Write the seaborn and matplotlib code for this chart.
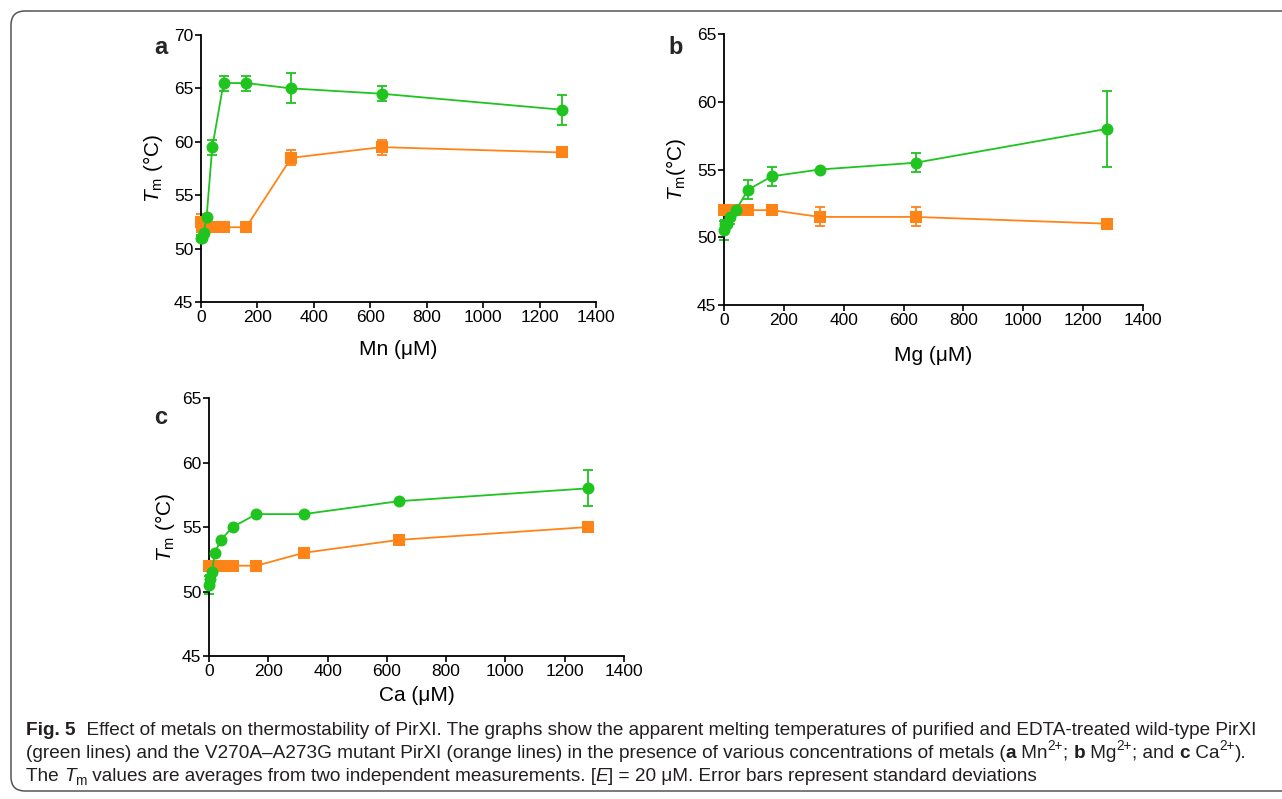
import matplotlib
matplotlib.use("Agg")
import matplotlib.pyplot as plt
import matplotlib.transforms as mtransforms
from matplotlib.patches import FancyBboxPatch
import numpy as np
import pandas as pd
import seaborn as sns

# ---------------- data ----------------
conc = [0, 5, 10, 20, 40, 80, 160, 320, 640, 1280]

mn_wt = [51, 51, 51.5, 53, 59.5, 65.5, 65.5, 65, 64.5, 63]
mn_wt_err = [0.3, 0, 0, 0, 0.7, 0.7, 0.7, 1.4, 0.7, 1.4]
mn_mut = [52.5, 52, 52, 52, 52, 52, 52, 58.5, 59.5, 59]
mn_mut_err = [0.7, 0, 0, 0, 0, 0, 0, 0.7, 0.7, 0]

mg_wt = [50.5, 51, 51, 51.5, 52, 53.5, 54.5, 55, 55.5, 58]
mg_wt_err = [0.7, 0.3, 0, 0.5, 0, 0.7, 0.7, 0, 0.7, 2.8]
mg_mut = [52, 52, 52, 52, 52, 52, 52, 51.5, 51.5, 51]
mg_mut_err = [0, 0, 0, 0, 0, 0, 0, 0.7, 0.7, 0]

ca_wt = [50.5, 51, 51.5, 53, 54, 55, 56, 56, 57, 58]
ca_wt_err = [0.7, 0.3, 0, 0, 0, 0, 0, 0, 0, 1.4]
ca_mut = [52, 52, 52, 52, 52, 52, 52, 53, 54, 55]
ca_mut_err = [0, 0, 0, 0, 0, 0, 0, 0, 0, 0]

x_ticks = [0, 200, 400, 600, 800, 1000, 1200, 1400]
GREEN = "#1fc41f"
ORANGE = "#ff8418"

# ---------------- style ----------------
sns.set_theme(style="ticks")
plt.rcParams["font.family"] = ["Liberation Sans", "DejaVu Sans"]
plt.rcParams["mathtext.fontset"] = "custom"
plt.rcParams["mathtext.rm"] = "Liberation Sans"
plt.rcParams["mathtext.it"] = "Liberation Sans:italic"
plt.rcParams["mathtext.bf"] = "Liberation Sans:bold"

W, H = 1282, 799
fig = plt.figure(figsize=(W / 100, H / 100), dpi=100)


def px_axes(left, top, right, bottom):
    return fig.add_axes([left / W, 1 - bottom / H, (right - left) / W, (bottom - top) / H])


def draw_panel(ax, wt, wt_err, mut, mut_err, ylim, yticks, xlabel, ylabel, letter,
               letter_xy, ylabel_x, xlabelpad):
    for vals, err, col, mk, ms in [(mut, mut_err, ORANGE, "s", 8.0), (wt, wt_err, GREEN, "o", 8.6)]:
        df = pd.DataFrame({"conc": conc, "tm": vals})
        sns.lineplot(data=df, x="conc", y="tm", ax=ax, color=col, marker=mk, markersize=ms,
                     markeredgewidth=0, linewidth=1.3, clip_on=False, zorder=3)
        e = np.array(err, dtype=float)
        m = e > 0
        ax.errorbar(np.array(conc)[m], np.array(vals)[m], yerr=e[m], fmt="none", ecolor=col,
                    elinewidth=1.3, capsize=3.8, capthick=1.3, clip_on=False, zorder=2)
    ax.set_xlim(0, 1400)
    ax.set_ylim(*ylim)
    ax.set_xticks(x_ticks)
    ax.set_yticks(yticks)
    for s in ["top", "right"]:
        ax.spines[s].set_visible(False)
    for s in ["left", "bottom"]:
        ax.spines[s].set_linewidth(1.3)
        ax.spines[s].set_color("black")
    ax.tick_params(axis="both", direction="out", length=4, width=1.2, labelsize=12.5,
                   colors="black", pad=1.5)
    ax.set_xlabel(xlabel, fontsize=15, labelpad=xlabelpad, color="black")
    ax.set_ylabel(ylabel, fontsize=15, color="black")
    ax.yaxis.set_label_coords(ylabel_x, 0.5)
    ax.grid(False)
    fig.text(letter_xy[0] / W, 1 - letter_xy[1] / H, letter, fontsize=17, fontweight="bold",
             ha="center", va="center")


ax_a = px_axes(201, 35, 596, 302)
draw_panel(ax_a, mn_wt, mn_wt_err, mn_mut, mn_mut_err, (45, 70), [45, 50, 55, 60, 65, 70],
           "Mn (\u03bcM)", r"$T_{\mathrm{m}}$ (°C)", "a", (161, 47), -0.091, 11)

ax_b = px_axes(724, 34, 1143, 305)
draw_panel(ax_b, mg_wt, mg_wt_err, mg_mut, mg_mut_err, (45, 65), [45, 50, 55, 60, 65],
           "Mg (\u03bcM)", r"$T_{\mathrm{m}}$(°C)", "b", (676, 47), -0.086, 13)

ax_c = px_axes(209, 398, 624, 656)
draw_panel(ax_c, ca_wt, ca_wt_err, ca_mut, ca_mut_err, (45, 65), [45, 50, 55, 60, 65],
           "Ca (\u03bcM)", r"$T_{\mathrm{m}}$ (°C)", "c", (161, 418), -0.077, 5)

# ---------------- frame ----------------
box = FancyBboxPatch((11, 8), 1400, 780, boxstyle="round,pad=0,rounding_size=14",
                     transform=mtransforms.IdentityTransform(), facecolor="none",
                     edgecolor="#555555", linewidth=1.1, zorder=0)
fig.patches.append(box)

# ---------------- caption ----------------
renderer = fig.canvas.get_renderer()
ident = mtransforms.IdentityTransform()
CAP_COLOR = "#231f20"
CAP_FONT = ["Liberation Sans Narrow", "Liberation Sans", "DejaVu Sans"]


def text_width(s, size, weight="normal", style="normal"):
    t1 = fig.text(0, 0, "|" + s + "|", fontsize=size, fontweight=weight, fontstyle=style,
                  family=CAP_FONT, transform=ident)
    t2 = fig.text(0, 0, "||", fontsize=size, fontweight=weight, fontstyle=style,
                  family=CAP_FONT, transform=ident)
    w = t1.get_window_extent(renderer).width - t2.get_window_extent(renderer).width
    t1.remove()
    t2.remove()
    return w


def draw_runs(x, y, runs, size):
    for run in runs:
        s = run[0]
        kind = run[1] if len(run) > 1 else "r"
        weight, style, fs, dy = "normal", "normal", size, 0
        if kind == "b":
            weight = "bold"
        elif kind == "i":
            style = "italic"
        elif kind == "sup":
            fs = size * 0.72
            dy = size * 0.55
        elif kind == "sub":
            fs = size * 0.72
            dy = -size * 0.3
        fig.text(x, y + dy, s, fontsize=fs, fontweight=weight, fontstyle=style,
                 family=CAP_FONT, color=CAP_COLOR, transform=ident, va="baseline", ha="left")
        x += text_width(s, fs, weight, style)
    return x


line1 = [("Fig. 5", "b"),
         ("  Effect of metals on thermostability of PirXI. The graphs show the apparent melting "
          "temperatures of purified and EDTA-treated wild-type PirXI", "r")]
line2 = [("(green lines) and the V270A\u2013A273G mutant PirXI (orange lines) in the presence of "
          "various concentrations of metals (", "r"),
         ("a", "b"), (" Mn", "r"), ("2+", "sup"), ("; ", "r"),
         ("b", "b"), (" Mg", "r"), ("2+", "sup"), ("; and ", "r"),
         ("c", "b"), (" Ca", "r"), ("2+", "sup"), (").", "r")]
line3 = [("The ", "r"), ("T", "i"), ("m", "sub"),
         (" values are averages from two independent measurements. [", "r"), ("E", "i"),
         ("] = 20 \u03bcM. Error bars represent standard deviations", "r")]


def runs_width(runs, size):
    tot = 0
    for run in runs:
        kind = run[1]
        w = "bold" if kind == "b" else "normal"
        st = "italic" if kind == "i" else "normal"
        fs = size * 0.72 if kind in ("sup", "sub") else size
        tot += text_width(run[0], fs, w, st)
    return tot


base = 12
target = 1262 - 26
cap_size = base * target / runs_width(line1, base)

draw_runs(26, H - 735, line1, cap_size)
draw_runs(26, H - 758, line2, cap_size)
draw_runs(26, H - 781, line3, cap_size)

fig.savefig("out.png", dpi=100)
